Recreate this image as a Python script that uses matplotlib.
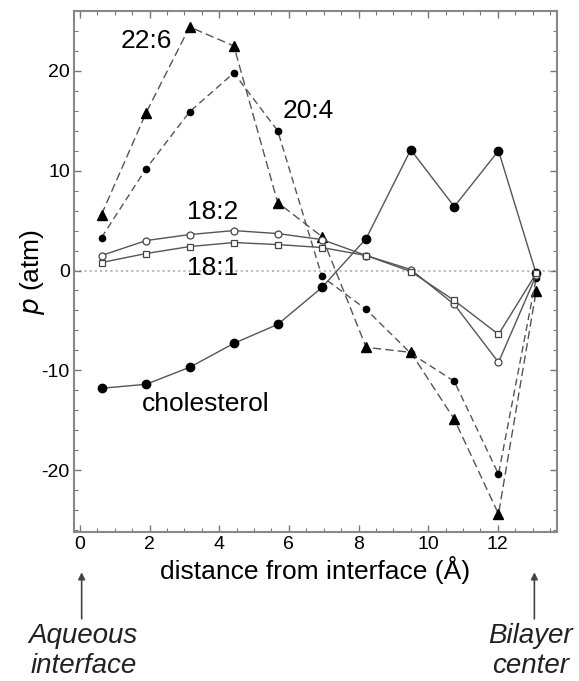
import matplotlib
matplotlib.use("Agg")
import matplotlib.pyplot as plt
from matplotlib.ticker import MultipleLocator

plt.rcParams['font.family'] = ['Liberation Sans', 'DejaVu Sans']
plt.rcParams['axes.unicode_minus'] = False

# distance from interface (Å)
x = [0.62, 1.9, 3.15, 4.42, 5.68, 6.95, 8.22, 9.5, 10.75, 12.02, 13.1]

p_22_6 = [5.6, 15.8, 24.4, 22.5, 6.8, 3.4, -7.7, -8.2, -14.9, -24.4, -2.1]
p_20_4 = [3.3, 10.2, 15.9, 19.8, 14.0, -0.6, -3.9, -8.3, -11.1, -20.4, -0.8]
p_chol = [-11.8, -11.4, -9.7, -7.3, -5.4, -1.7, 3.2, 12.1, 6.4, 12.0, -0.3]
p_18_2 = [1.5, 3.0, 3.6, 4.0, 3.7, 3.1, 1.5, 0.1, -3.4, -9.2, -0.5]
p_18_1 = [0.8, 1.7, 2.4, 2.8, 2.6, 2.3, 1.5, -0.1, -3.0, -6.4, -0.3]

xticks = [0, 2, 4, 6, 8, 10, 12]
yticks = [-20, -10, 0, 10, 20]

fig = plt.figure(figsize=(5.79, 6.81), dpi=100)
ax = fig.add_axes([74/579, 1-532/681, (557-74)/579, (532-11)/681])

lc = '#555555'
ax.axhline(0, color='#bbbbbb', ls=(0, (1, 1.5)), lw=1.5, zorder=1)

ax.plot(x, p_22_6, ls=(0, (6, 3)), color=lc, lw=1.0, marker='^', ms=6.5,
        mfc='black', mec='black', zorder=3)
ax.plot(x, p_20_4, ls=(0, (5, 3)), color=lc, lw=1.0, marker='o', ms=4.5,
        mfc='black', mec='black', zorder=3)
ax.plot(x, p_chol, ls='-', color=lc, lw=1.0, marker='o', ms=6,
        mfc='black', mec='black', zorder=3)
ax.plot(x, p_18_2, ls='-', color=lc, lw=1.0, marker='o', ms=5,
        mfc='white', mec='#444444', mew=0.9, zorder=3)
ax.plot(x, p_18_1, ls='-', color=lc, lw=1.0, marker='s', ms=4.8,
        mfc='white', mec='#444444', mew=0.9, zorder=3)

ax.set_xlim(-0.17, 13.7)
ax.set_ylim(-26.2, 26.0)
ax.set_xticks(xticks)
ax.set_yticks(yticks)
ax.xaxis.set_minor_locator(MultipleLocator(0.5))
ax.yaxis.set_minor_locator(MultipleLocator(2))
ax.tick_params(which='both', direction='in', top=True, right=True,
               color='#777777', labelsize=14, pad=3)
ax.tick_params(which='major', length=5, width=1)
ax.tick_params(which='minor', length=3, width=0.8)
for s in ax.spines.values():
    s.set_color('#888888')
    s.set_linewidth(1.5)

ax.set_xlabel('distance from interface (Å)', fontsize=19, labelpad=2)
ax.set_ylabel(r'$\it{p}$ (atm)', fontsize=19, labelpad=-4)

fs = 19
ax.text(1.9, 23.0, '22:6', fontsize=fs, ha='center', va='center')
ax.text(6.55, 16.0, '20:4', fontsize=fs, ha='center', va='center')
ax.text(3.8, 5.9, '18:2', fontsize=fs, ha='center', va='center')
ax.text(3.8, 0.25, '18:1', fontsize=fs, ha='center', va='center')
ax.text(3.6, -13.4, 'cholesterol', fontsize=fs, ha='center', va='center')

tr = ax.get_xaxis_transform()
arrowprops = dict(arrowstyle='-|>', color='#444444', lw=1.2, mutation_scale=10)
ax.annotate('', xy=(0.05, -0.072), xytext=(0.05, -0.172), xycoords=tr,
            textcoords=tr, arrowprops=arrowprops, annotation_clip=False)
ax.annotate('', xy=(13.05, -0.072), xytext=(13.05, -0.172), xycoords=tr,
            textcoords=tr, arrowprops=arrowprops, annotation_clip=False)
ax.text(0.1, -0.228, 'Aqueous\ninterface', transform=tr, fontsize=20,
        style='italic', ha='center', va='center', linespacing=1.2, color='#222222')
ax.text(12.95, -0.228, 'Bilayer\ncenter', transform=tr, fontsize=20,
        style='italic', ha='center', va='center', linespacing=1.2, color='#222222')

fig.savefig('out.png', dpi=100)
